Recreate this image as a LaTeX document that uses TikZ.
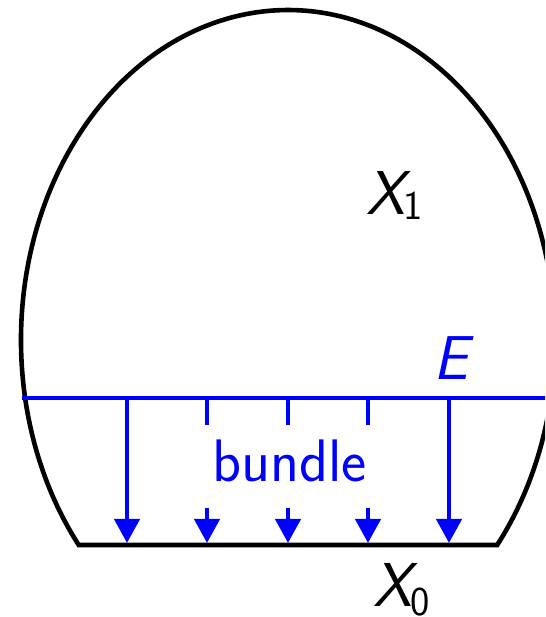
\documentclass[tikz,border=0pt]{standalone}
\usetikzlibrary{arrows.meta}
\definecolor{eblue}{RGB}{0,0,255}
\begin{document}
\begin{tikzpicture}[x=1pt,y=1pt,
  outline/.style={line width=4.6pt, draw=black},
  fib/.style={line width=4.4pt, draw=eblue},
  tipped/.style={-{Triangle[width=25pt,length=24pt]}},
  lbl/.style={inner sep=0pt, anchor=base west, font=\fontsize{62}{62}\selectfont\sffamily},
]
\useasboundingbox (0,0) rectangle (545,617);
\clip (0,0) rectangle (545,617);
% space X1: bottom line and egg-shaped boundary
\coordinate (bl) at (78.8,72);
\coordinate (br) at (497.2,72);
\draw[outline] (bl) -- (br) arc[start angle=-38.4, end angle=218.4, x radius=267, y radius=330] -- cycle;
% the subspace E
\coordinate (el) at (22,219);
\coordinate (er) at (560,219);
\draw[fib] (el) -- (er);
% fibres
\foreach \n/\x in {a/127,e/449}{
  \coordinate (t\n) at (\x,219);
  \coordinate (b\n) at (\x,74);
  \draw[fib,tipped] (t\n) -- (b\n);
}
\foreach \n/\x in {b/207,c/288,d/368}{
  \coordinate (t\n) at (\x,219);
  \coordinate (s\n) at (\x,192);
  \coordinate (u\n) at (\x,109);
  \coordinate (b\n) at (\x,74);
  \draw[fib] (t\n) -- (s\n);
  \draw[fib,tipped] (u\n) -- (b\n);
}
% labels
\node[lbl, anchor=base, text=eblue, font=\fontsize{60}{60}\selectfont\sffamily] (bundle) at (289.5,135) {bundle};
\node[lbl, text=eblue] (E) at (433,237) {\itshape E};
\node[lbl] (X1) at (366,402) {{\itshape X}\kern-1pt\raisebox{-5pt}{\fontsize{41}{41}\selectfont 1}};
\node[lbl] (X0) at (373,10) {{\itshape X}\kern-1pt\raisebox{-9pt}{\fontsize{41}{41}\selectfont 0}};
\end{tikzpicture}
\end{document}
